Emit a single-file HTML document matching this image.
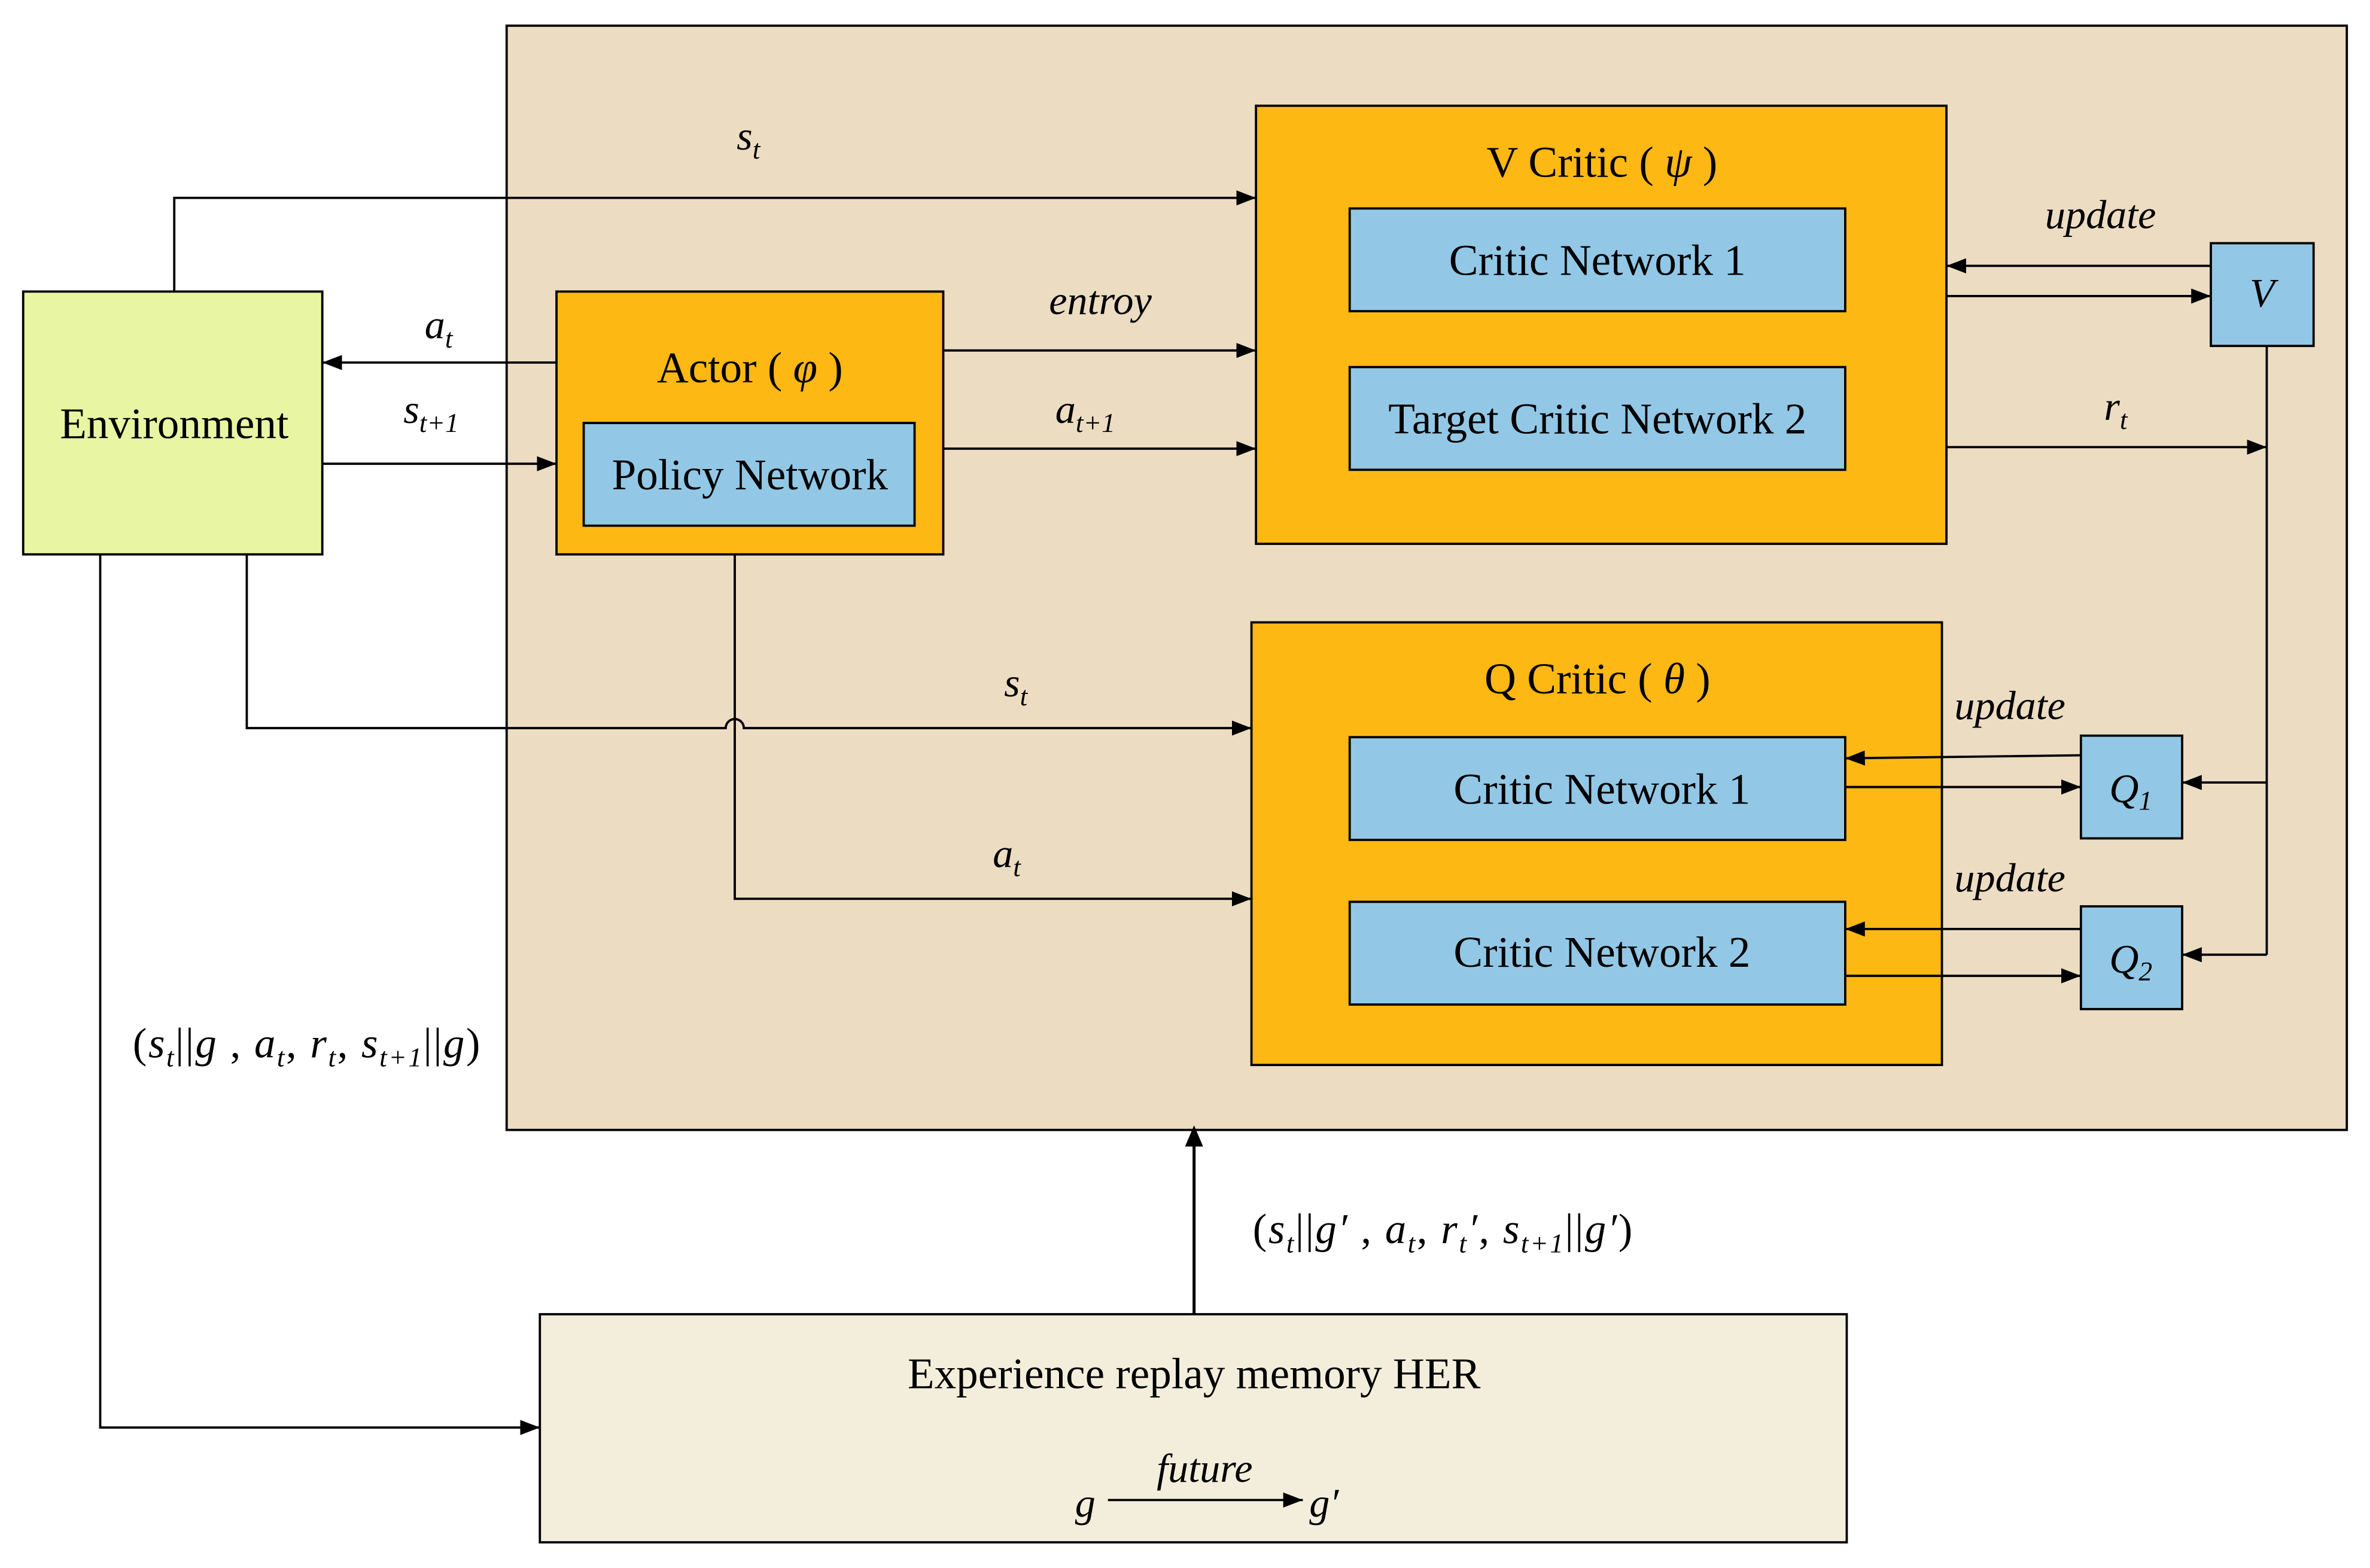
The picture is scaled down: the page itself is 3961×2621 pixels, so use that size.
<!DOCTYPE html>
<html><head><meta charset="utf-8"><style>
html,body{margin:0;padding:0;background:#fff;}
svg{display:block;}
text{font-family:"Liberation Serif",serif;fill:#000;}
.i{font-style:italic;}
</style></head><body>
<svg width="3961" height="2621" viewBox="0 0 1568 1038" xmlns="http://www.w3.org/2000/svg">
<defs><marker id="a" markerWidth="13" markerHeight="10" refX="13" refY="5" orient="auto" markerUnits="userSpaceOnUse"><path d="M0,0 L13,5 L0,10 Z" fill="#000"/></marker>
<marker id="b" markerWidth="14" markerHeight="18" refX="9" refY="9" orient="auto" markerUnits="userSpaceOnUse"><path d="M0,3 L14,9 L0,15 Z" fill="#000"/></marker></defs>
<g stroke="#000" stroke-width="1.5">
<rect x="335" y="17" width="1218" height="731" fill="#ecdcc2"/>
<rect x="15" y="193" width="198" height="174" fill="#e8f5a3"/>
<rect x="368" y="193" width="256" height="174" fill="#fdb813"/>
<rect x="386" y="280" width="219" height="68" fill="#92c8e6"/>
<rect x="831" y="70" width="457" height="290" fill="#fdb813"/>
<rect x="893" y="138" width="328" height="68" fill="#92c8e6"/>
<rect x="893" y="243" width="328" height="68" fill="#92c8e6"/>
<rect x="1463" y="161" width="68" height="68" fill="#92c8e6"/>
<rect x="828" y="412" width="457" height="293" fill="#fdb813"/>
<rect x="893" y="488" width="328" height="68" fill="#92c8e6"/>
<rect x="893" y="597" width="328" height="68" fill="#92c8e6"/>
<rect x="1377" y="487" width="67" height="68" fill="#92c8e6"/>
<rect x="1377" y="600" width="67" height="68" fill="#92c8e6"/>
<rect x="357" y="870" width="865" height="151" fill="#f3eedc"/>
</g>
<g stroke="#000" stroke-width="1.5" fill="none" marker-end="url(#a)">
<path d="M115,193 V131 H831"/>
<path d="M368,240 H213"/>
<path d="M213,307 H368"/>
<path d="M624,232 H831"/>
<path d="M624,297 H831"/>
<path d="M1463,176 H1288"/>
<path d="M1288,196 H1463"/>
<path d="M1288,296 H1500"/>
<path d="M1500,518 H1444"/>
<path d="M1500,632 H1444"/>
<path d="M163,367 V482 H480 A6,6 0 0 1 492,482 H828"/>
<path d="M486,367 V595 H828"/>
<path d="M1377,500 L1221,502"/>
<path d="M1221,521 H1377"/>
<path d="M1377,615 H1221"/>
<path d="M1221,646 H1377"/>
<path d="M66,367 V945 H357"/>
<path d="M733,993 H862"/>
</g>
<path d="M1500,229 V632" stroke="#000" stroke-width="1.5" fill="none"/>
<path d="M790,870 V750" stroke="#000" stroke-width="2" fill="none" marker-end="url(#b)"/>
<g font-size="29" text-anchor="middle">
<text x="115" y="290">Environment</text>
<text x="496" y="253">Actor ( <tspan class="i">φ</tspan> )</text>
<text x="496" y="324">Policy Network</text>
<text x="1060" y="117">V Critic ( <tspan class="i">ψ</tspan> )</text>
<text x="1057" y="182">Critic Network 1</text>
<text x="1057" y="287">Target Critic Network 2</text>
<text x="1057" y="459">Q Critic ( <tspan class="i">θ</tspan> )</text>
<text x="1060" y="532">Critic Network 1</text>
<text x="1060" y="640">Critic Network 2</text>
<text x="790" y="919">Experience replay memory HER</text>
</g>
<g font-size="27" text-anchor="middle" font-style="italic">
<text x="1497" y="203">V</text>
<text x="1410" y="531">Q<tspan font-size="18" dy="5">1</tspan></text>
<text x="1410" y="644">Q<tspan font-size="18" dy="5">2</tspan></text>
<text x="495" y="99">s<tspan font-size="18" dy="6">t</tspan></text>
<text x="290" y="224">a<tspan font-size="18" dy="6">t</tspan></text>
<text x="285" y="280">s<tspan font-size="18" dy="6">t+1</tspan></text>
<text x="728" y="208">entroy</text>
<text x="718" y="280">a<tspan font-size="18" dy="6">t+1</tspan></text>
<text x="1390" y="151">update</text>
<text x="1400" y="278">r<tspan font-size="18" dy="6">t</tspan></text>
<text x="672" y="461">s<tspan font-size="18" dy="6">t</tspan></text>
<text x="666" y="574">a<tspan font-size="18" dy="6">t</tspan></text>
<text x="1330" y="476">update</text>
<text x="1330" y="590">update</text>
<text x="718" y="1004">g</text>
<text x="797" y="981">future</text>
<text x="876" y="1004">g′</text>
</g>
<g font-size="28" text-anchor="middle">
<text x="203" y="700" letter-spacing="1">(<tspan font-style="italic">s</tspan><tspan font-style="italic" font-size="18" dy="6">t</tspan><tspan dy="-6">||</tspan><tspan font-style="italic">g</tspan> , <tspan font-style="italic">a</tspan><tspan font-style="italic" font-size="18" dy="6">t</tspan><tspan dy="-6">, </tspan><tspan font-style="italic">r</tspan><tspan font-style="italic" font-size="18" dy="6">t</tspan><tspan dy="-6">, </tspan><tspan font-style="italic">s</tspan><tspan font-style="italic" font-size="18" dy="6">t+1</tspan><tspan dy="-6">||</tspan><tspan font-style="italic">g</tspan>)</text>
<text x="955" y="823" letter-spacing="1">(<tspan font-style="italic">s</tspan><tspan font-style="italic" font-size="18" dy="6">t</tspan><tspan dy="-6">||</tspan><tspan font-style="italic">g′</tspan> , <tspan font-style="italic">a</tspan><tspan font-style="italic" font-size="18" dy="6">t</tspan><tspan dy="-6">, </tspan><tspan font-style="italic">r</tspan><tspan font-style="italic" font-size="18" dy="6">t</tspan><tspan dy="-6" font-style="italic">′</tspan>, <tspan font-style="italic">s</tspan><tspan font-style="italic" font-size="18" dy="6">t+1</tspan><tspan dy="-6">||</tspan><tspan font-style="italic">g′</tspan>)</text>
</g>
</svg>
</body></html>
